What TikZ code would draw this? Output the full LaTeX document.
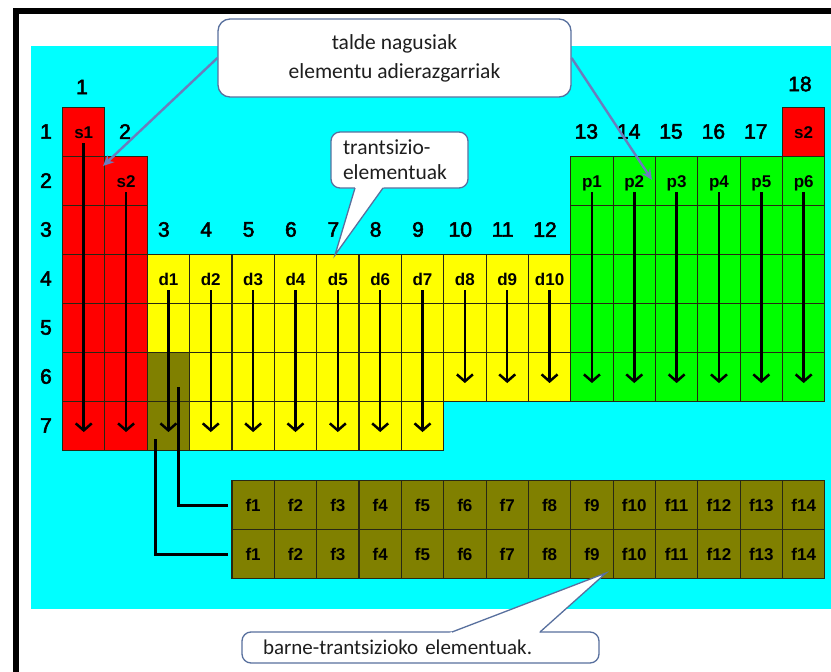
\documentclass[tikz,border=0pt]{standalone}
\usepackage{fontspec}
\setmainfont{Liberation Sans}
\newfontfamily\calfont{Carlito}
\newfontfamily\numfont[FakeBold=2.5]{Liberation Sans}
\usetikzlibrary{arrows.meta,calc}
\definecolor{cyanbg}{RGB}{0,255,255}
\definecolor{cred}{RGB}{255,0,0}
\definecolor{cyel}{RGB}{255,255,0}
\definecolor{cgrn}{RGB}{0,255,0}
\definecolor{colive}{RGB}{128,128,0}
\definecolor{cbord}{RGB}{40,40,20}
\definecolor{coline}{RGB}{88,112,158}
\definecolor{blarrow}{RGB}{108,124,188}
\definecolor{cotext}{RGB}{30,30,30}
\begin{document}
\begin{tikzpicture}[x=1pt,y=-1pt,
  cell/.style={draw=cbord,line width=1.1pt,minimum width=42.35pt,minimum height=49pt,inner sep=0pt,anchor=north west},
  lab/.style={font=\bfseries\fontsize{17}{17}\selectfont,inner sep=0pt,text height=12pt,text depth=0pt},
  num/.style={font=\numfont\fontsize{21}{21}\selectfont,inner sep=0pt},
  darr/.style={line width=2.5pt,-{Straight Barb[length=7pt,width=16pt]},shorten <=5pt},
  conn/.style={line width=3pt,shorten >=3pt},
  cobox/.style={draw=coline,line width=1.3pt,fill=white,text=cotext,inner sep=0pt},
  barr/.style={draw=blarrow,line width=2.4pt,-{Stealth[length=11pt,width=10pt]}},
]
\useasboundingbox (0,0) rectangle (831,672);
\fill[white] (0,0) rectangle (831,672);
\fill[cyanbg] (31,46) rectangle (831,609);
\draw[line width=6pt] (16,672) -- (16,11) -- (831,11);

% s-block
\foreach \r in {1,...,7}
  \node[cell,fill=cred] (c-1-\r) at (62,{107+(\r-1)*49}) {};
\foreach \r in {2,...,7}
  \node[cell,fill=cred] (c-2-\r) at ({62+42.35},{107+(\r-1)*49}) {};
\node[cell,fill=cred] (c-18-1) at ({62+17*42.35},107) {};
% d-block
\foreach \c in {3,...,12}
  \foreach \r in {4,5,6}
    \node[cell,fill=cyel] (c-\c-\r) at ({62+(\c-1)*42.35},{107+(\r-1)*49}) {};
\foreach \c in {3,...,9}
  \node[cell,fill=cyel] (c-\c-7) at ({62+(\c-1)*42.35},{107+6*49}) {};
\node[cell,fill=colive] (c-3-6) at ({62+2*42.35},{107+5*49}) {};
\node[cell,fill=colive] (c-3-7) at ({62+2*42.35},{107+6*49}) {};
% p-block
\foreach \c in {13,...,18}
  \foreach \r in {2,...,6}
    \node[cell,fill=cgrn] (c-\c-\r) at ({62+(\c-1)*42.35},{107+(\r-1)*49}) {};
% f-block
\foreach \c [evaluate=\c as \i using int(\c-4)] in {5,...,18} {
  \node[cell,fill=colive] (fa-\c) at ({62+(\c-1)*42.35},480) {};
  \node[cell,fill=colive] (fb-\c) at ({62+(\c-1)*42.35},529) {};
  \node[lab] (lfa-\c) at (fa-\c.center) {f\i};
  \node[lab] (lfb-\c) at (fb-\c.center) {f\i};
}

% period numbers
\foreach \r in {1,...,7}
  \node[num] (per-\r) at (46,{107+(\r-0.5)*49}) {\r};
% group numbers
\node[num] (g-1) at (82,87) {1};
\node[num] (g-2) at (125,131.5) {2};
\foreach \c in {3,...,12}
  \node[num] (g-\c) at ({62+(\c-0.5)*42.35-4},229.5) {\c};
\foreach \c in {13,...,17}
  \node[num] (g-\c) at ({62+(\c-0.5)*42.35-5},131.5) {\c};
\node[num] (g-18) at (800,84) {18};

% labels and arrows
\node[lab] (ls1) at (c-1-1.center) {s1};
\node[lab] (ls2) at (c-2-2.center) {s2};
\node[lab] (ls18) at (c-18-1.center) {s2};
\draw[darr] (ls1.south) -- ([yshift=-6pt]c-1-7.center);
\draw[darr] (ls2.south) -- ([yshift=-6pt]c-2-7.center);
\foreach \c [evaluate=\c as \i using int(\c-2)] in {3,...,9} {
  \node[lab] (ld-\c) at (c-\c-4.center) {d\i};
  \draw[darr] (ld-\c.south) -- ([yshift=-6pt]c-\c-7.center);
}
\foreach \c [evaluate=\c as \i using int(\c-2)] in {10,11,12} {
  \node[lab] (ld-\c) at (c-\c-4.center) {d\i};
  \draw[darr] (ld-\c.south) -- ([yshift=-6pt]c-\c-6.center);
}
\foreach \c [evaluate=\c as \i using int(\c-12)] in {13,...,18} {
  \node[lab] (lp-\c) at (c-\c-2.center) {p\i};
  \draw[darr] (lp-\c.south) -- ([yshift=-6pt]c-\c-6.center);
}

% connectors to f-block
\coordinate (k1) at (155,439);
\coordinate (k2) at (178,387);
\draw[conn] (k1) |- (fb-5.west);
\draw[conn] (k2) |- (fa-5.west);

% callout 1
\node[cobox,rounded corners=12pt,minimum width=353pt,minimum height=78pt,align=center,
  font=\calfont\fontsize{21.5}{29}\selectfont] (box1) at (394.5,58)
  {talde nagusiak\\elementu adierazgarriak};
\coordinate (t1) at (103,166);
\coordinate (t2) at (652,180);
\draw[barr] (box1.west) -- (t1);
\draw[barr] (box1.east) -- (t2);

% callout 2
\node[cobox,rounded corners=9pt,minimum width=137pt,minimum height=56pt,text width=113pt,align=left,
  font=\calfont\fontsize{21.5}{25}\selectfont] (box2) at (399.5,160)
  {trantsizio-\\elementuak};
\coordinate (tip2) at (335,255);
\coordinate (b2a) at (355,188);
\coordinate (b2b) at (383,188);
\fill[white] (tip2) -- ($(tip2)!1.1!(b2a)$) -- ($(tip2)!1.1!(b2b)$) -- cycle;
\draw[coline,line width=1.3pt,line join=miter] (b2a) -- (tip2) -- (b2b);

% callout 3
\node[cobox,rounded corners=9pt,minimum width=357pt,minimum height=31pt,text width=315pt,align=left,
  font=\calfont\fontsize{21}{25}\selectfont] (box3) at (420.5,647.5)
  {barne-trantsizioko elementuak.};
\coordinate (tip3) at (606,573);
\coordinate (b3a) at (452,632);
\coordinate (b3b) at (540,632);
\fill[white] (tip3) -- ($(tip3)!1.1!(b3a)$) -- ($(tip3)!1.1!(b3b)$) -- cycle;
\draw[coline,line width=1.3pt,line join=miter] (b3a) -- (tip3) -- (b3b);
\end{tikzpicture}
\end{document}
